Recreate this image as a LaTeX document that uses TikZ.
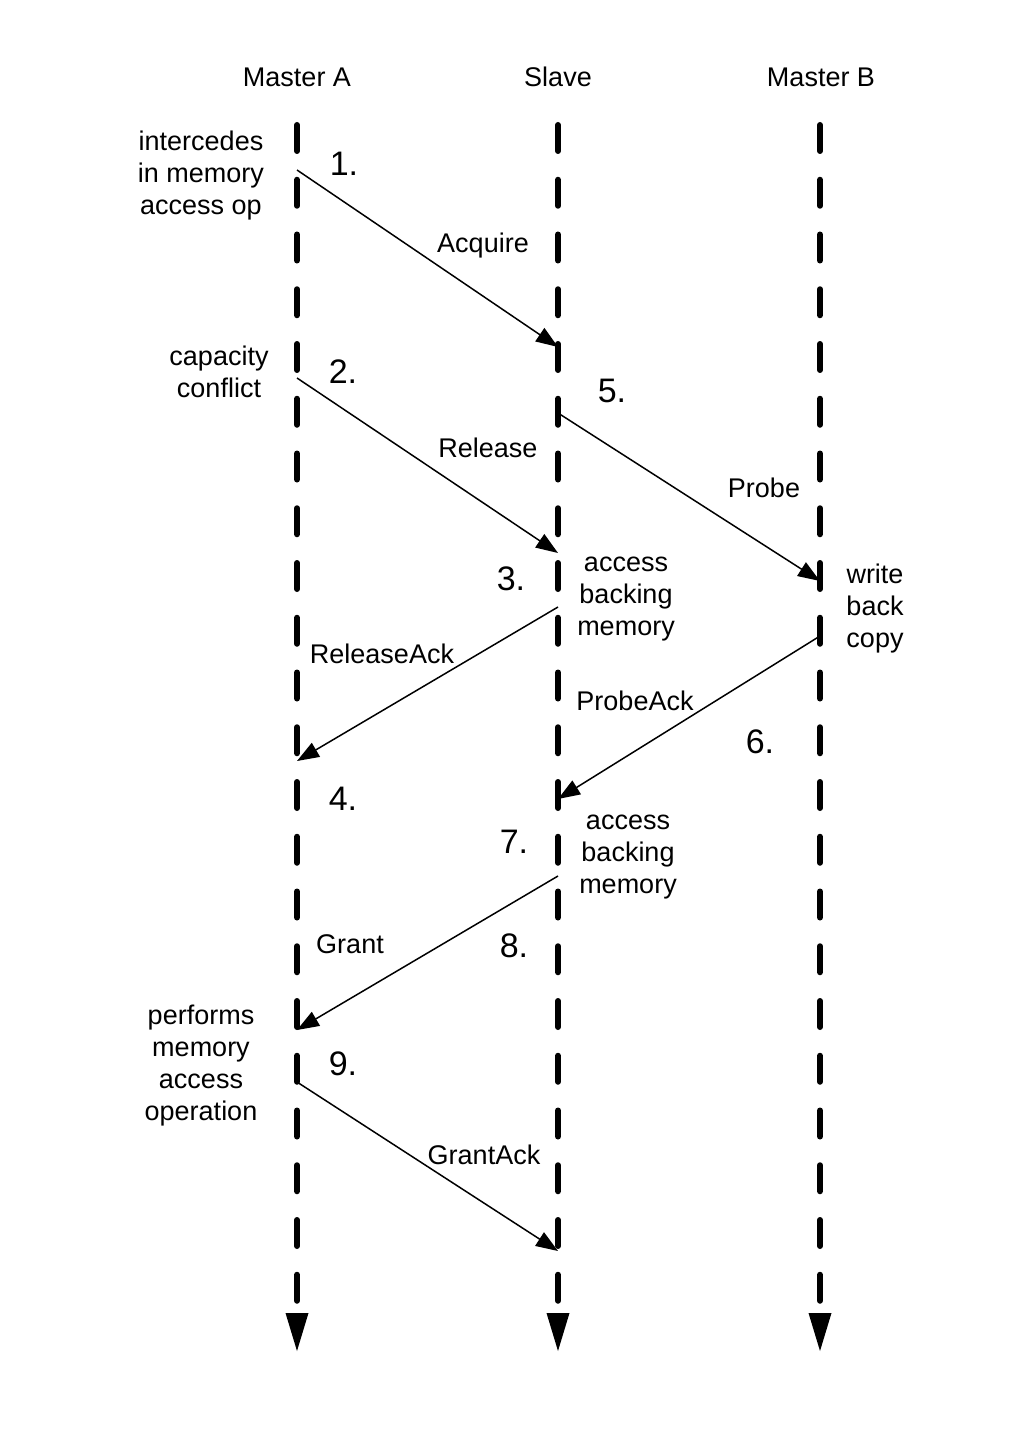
\documentclass[tikz,border=0pt]{standalone}
\usepackage{fontspec}
\setmainfont{Liberation Sans}
\usetikzlibrary{arrows.meta}
\begin{document}
\begin{tikzpicture}[x=0.5pt,y=-0.5pt,
  lifeline/.style={line width=3pt, dash pattern=on 13pt off 14.375pt, line cap=round},
  endtip/.style={fill=black},
  msg/.style={line width=0.75pt, -{Triangle[length=11pt,width=8pt]}},
  lbl/.style={font=\fontsize{13.5}{16}\selectfont, inner sep=0pt, align=center},
  num/.style={font=\fontsize{17}{20}\selectfont, inner sep=0pt, anchor=base}]
\useasboundingbox (0,0) rectangle (1024,1439);
% headers
\node[lbl, anchor=base] (hA) at (297,87) {Master A};
\node[lbl, anchor=base] (hS) at (558,87) {Slave};
\node[lbl, anchor=base] (hB) at (821,87) {Master B};
% lifelines
\foreach \n/\x in {A/297,S/558,B/820}{
  \coordinate (\n top) at (\x,125);
  \coordinate (\n bot) at (\x,1304);
  \draw[lifeline] (\n top) -- (\n bot);
  \fill[endtip] (\x-11.5,1313) -- (\x+11.5,1313) -- (\x,1351) -- cycle;
}
% message end points
\coordinate (m1s) at (297,170);  \coordinate (m1e) at (558,347);
\coordinate (m2s) at (297,378);  \coordinate (m2e) at (558,553);
\coordinate (m5s) at (558,413);  \coordinate (m5e) at (820,581);
\coordinate (m3s) at (558,607);  \coordinate (m3e) at (297,761);
\coordinate (m6s) at (820,636);  \coordinate (m6e) at (558,799);
\coordinate (m7s) at (558,876);  \coordinate (m7e) at (297,1030);
\coordinate (m9s) at (297,1082); \coordinate (m9e) at (558,1251);
\draw[msg] (m1s) -- (m1e);
\draw[msg] (m2s) -- (m2e);
\draw[msg] (m5s) -- (m5e);
\draw[msg] (m3s) -- (m3e);
\draw[msg] (m6s) -- (m6e);
\draw[msg] (m7s) -- (m7e);
\draw[msg] (m9s) -- (m9e);
% message labels
\node[lbl, anchor=base] (tAcq) at (483,253) {Acquire};
\node[lbl, anchor=base] (tRel) at (488,457) {Release};
\node[lbl, anchor=base] (tPrb) at (764,497) {Probe};
\node[lbl, anchor=base] (tRA) at (382,663) {ReleaseAck};
\node[lbl, anchor=base] (tPA) at (635,710) {ProbeAck};
\node[lbl, anchor=base] (tGr) at (350,953) {Grant};
\node[lbl, anchor=base] (tGA) at (484,1164) {GrantAck};
% step numbers
\node[num] (n1) at (344,176) {1.};
\node[num] (n2) at (343,383) {2.};
\node[num] (n5) at (612,402) {5.};
\node[num] (n3) at (511,590) {3.};
\node[num] (n6) at (760,753) {6.};
\node[num] (n4) at (343,810) {4.};
\node[num] (n7) at (514,853) {7.};
\node[num] (n8) at (514,957) {8.};
\node[num] (n9) at (343,1075) {9.};
% action notes
\node[lbl] (a1) at (201,176) {intercedes\\in memory\\access op};
\node[lbl] (a2) at (219,372) {capacity\\conflict};
\node[lbl] (a3) at (626,599) {access\\backing\\memory};
\node[lbl] (a4) at (875,609) {write\\back\\copy};
\node[lbl] (a5) at (628,857) {access\\backing\\memory};
\node[lbl] (a6) at (201,1066) {performs\\memory\\access\\operation};
\end{tikzpicture}
\end{document}
